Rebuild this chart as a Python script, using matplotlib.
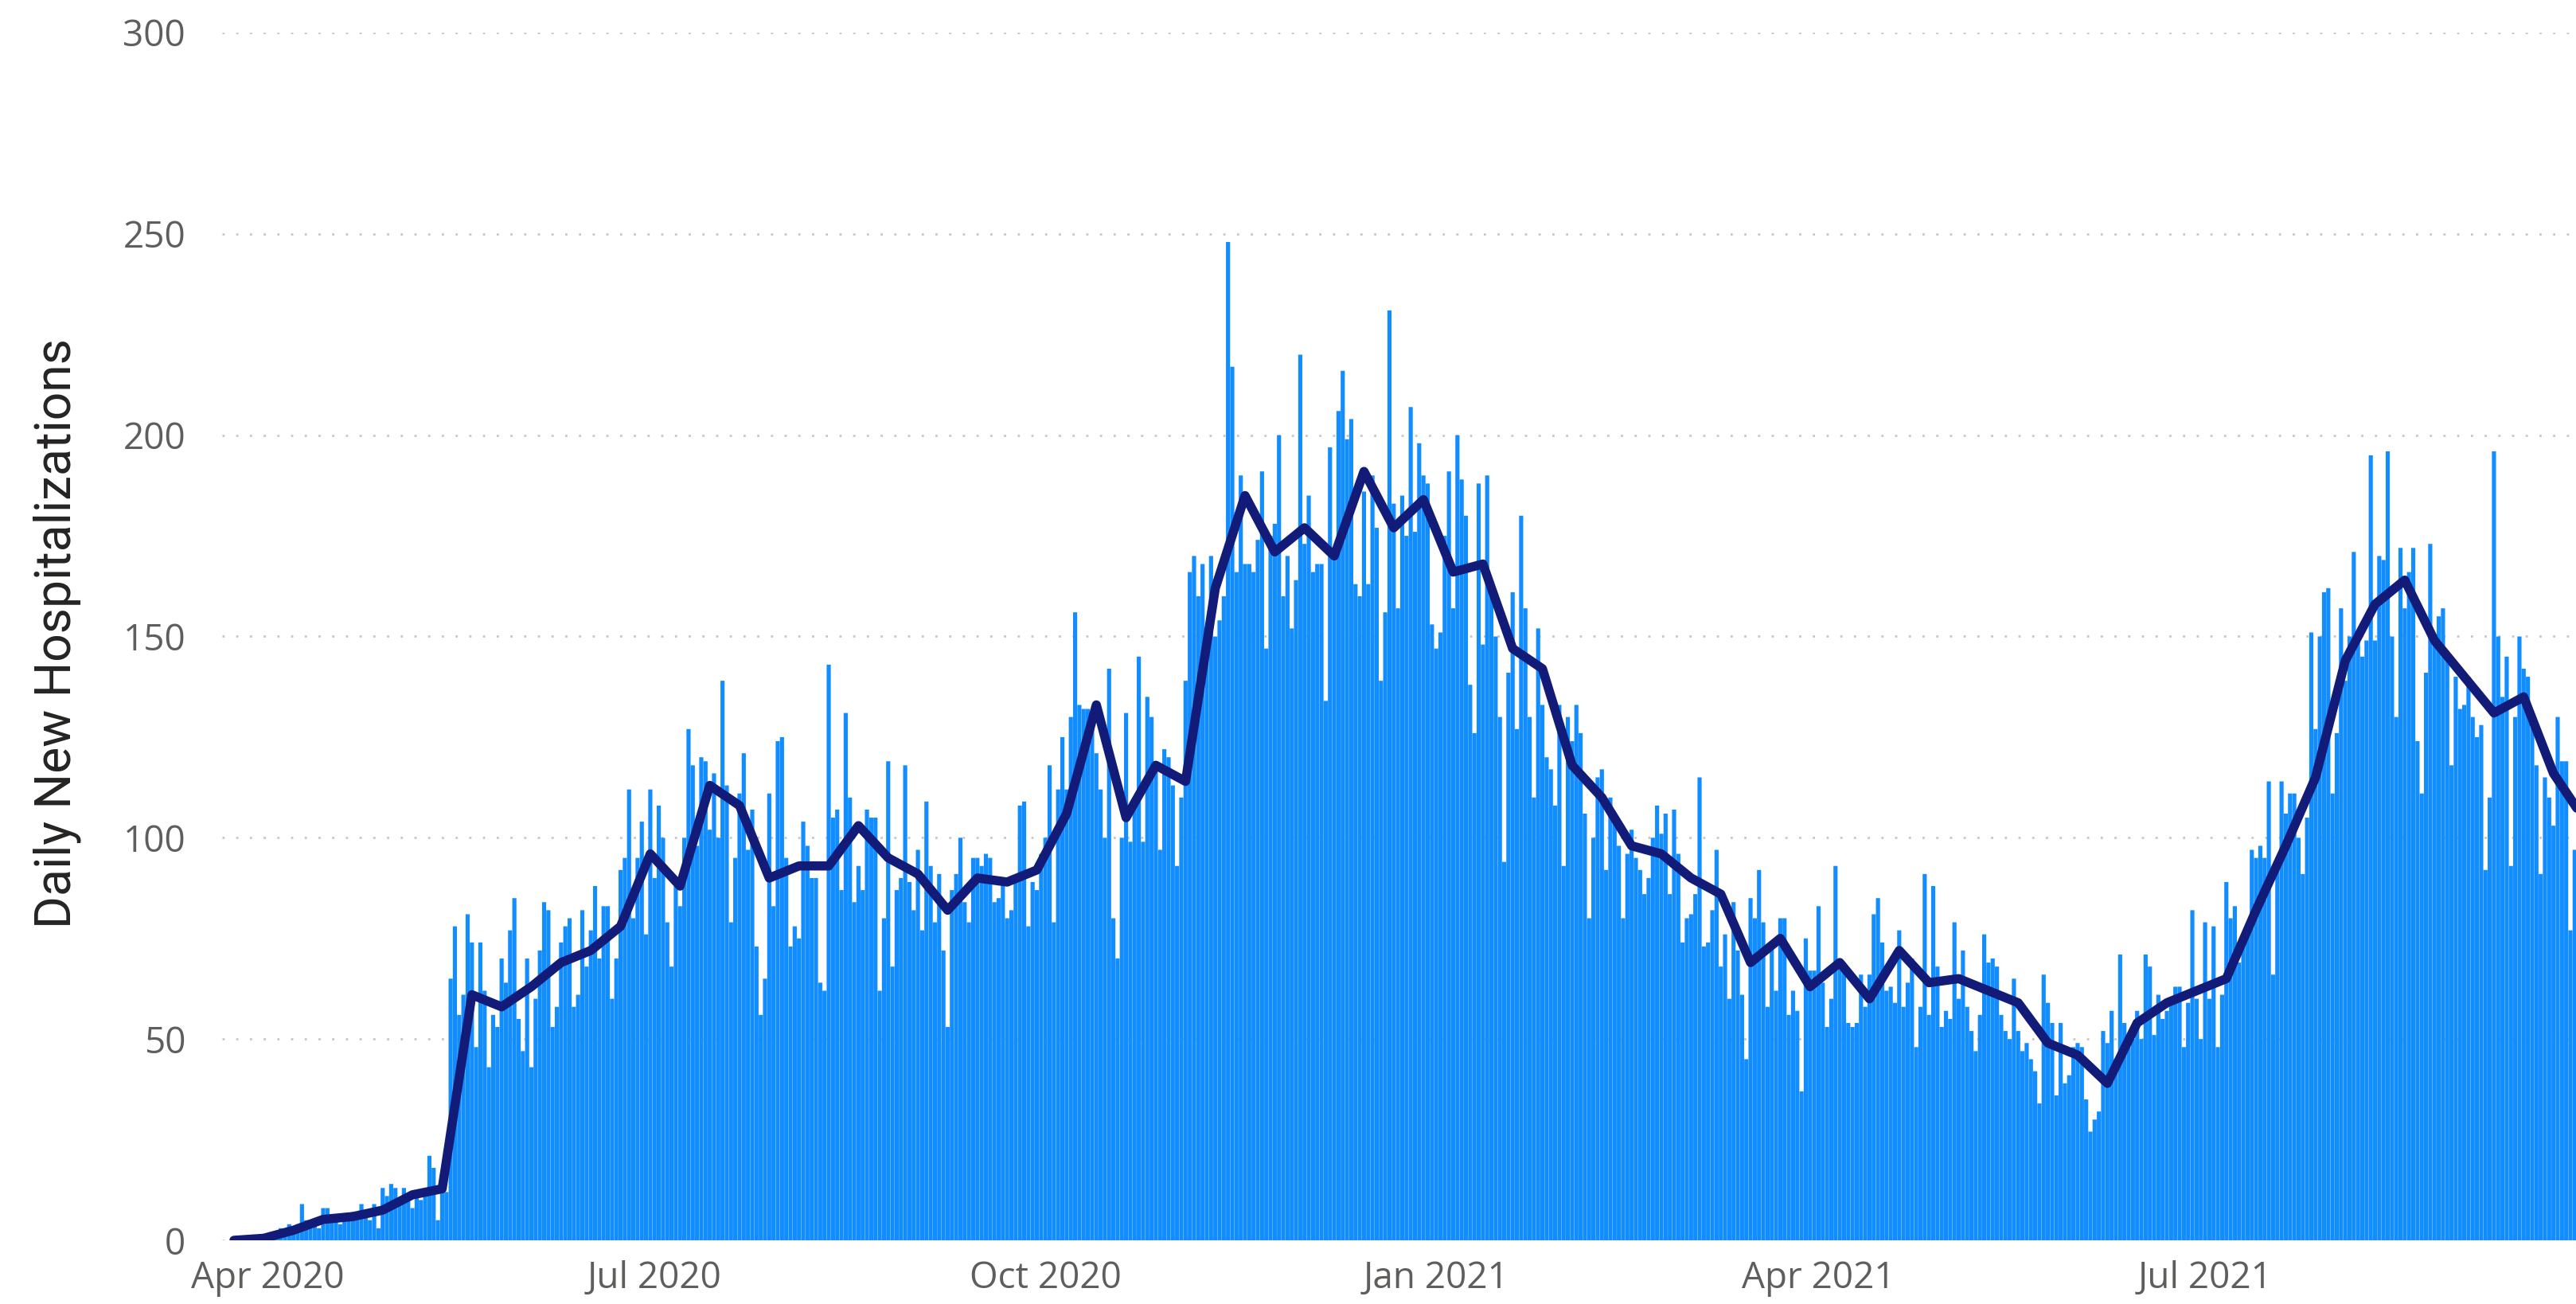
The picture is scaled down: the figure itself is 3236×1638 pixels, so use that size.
import matplotlib
matplotlib.use("Agg")
import matplotlib.pyplot as plt
import matplotlib.dates as mdates
import numpy as np
import pandas as pd

# ---------------- data: daily new hospitalizations (bars), by month ----------------
mar_2020 = [0, 0, 0, 1, 0, 1, 1]  # starts Mar 25, 2020
apr_2020 = [1, 2, 2, 3, 2, 4, 3, 4, 9, 5, 3, 4, 3, 8, 8, 5, 6, 4, 6, 5, 7,
            6, 9, 7, 5, 9, 3, 13, 11, 14]
may_2020 = [13, 9, 13, 11, 8, 12, 10, 12, 21, 18, 5, 12, 12, 65, 78, 56, 61, 81, 74,
            48, 74, 62, 43, 56, 53, 70, 64, 77, 85, 55, 47]
jun_2020 = [70, 43, 60, 72, 84, 82, 53, 58, 74, 78, 80, 58, 61, 82, 68, 77,
            88, 70, 83, 83, 60, 70, 92, 95, 112, 80, 95, 104, 76, 112]
jul_2020 = [90, 108, 100, 79, 68, 88, 83, 100, 127, 118, 98, 120, 119, 102,
            116, 100, 139, 113, 79, 95, 111, 121, 97, 107, 73, 56, 65, 111, 83, 124, 125]
aug_2020 = [95, 73, 78, 75, 104, 98, 90, 90, 64, 62, 143, 105, 107, 87, 131, 110, 84, 93,
            87, 107, 105, 105, 62, 80, 119, 68, 87, 90, 118, 89, 82]
sep_2020 = [97, 77, 109, 93, 79, 91, 72, 53, 87, 91, 100, 84, 79, 95, 95,
            93, 96, 95, 84, 85, 90, 80, 82, 90, 108, 109, 78, 89, 87, 96]
oct_2020 = [100, 118, 79, 112, 125, 112, 130, 156, 133, 132, 132, 127, 121,
            112, 100, 142, 80, 70, 100, 131, 99, 108, 145, 99, 135, 130, 117, 97, 122, 120, 113]
nov_2020 = [93, 110, 139, 166, 170, 160, 168, 145, 170, 150, 154, 160, 248, 217, 166, 190, 168,
            168, 166, 174, 191, 147, 175, 178, 200, 160, 170, 152, 164, 220]
dec_2020 = [173, 185, 166, 168, 168, 134, 197, 172, 206, 216, 199, 204, 163, 160, 186,
            163, 190, 177, 139, 156, 231, 183, 157, 185, 175, 207, 176, 198, 190, 188, 153]
jan_2021 = [147, 151, 175, 191, 157, 200, 189, 180, 138, 126, 188, 148, 190, 163, 150, 130, 94,
            141, 161, 127, 180, 157, 130, 110, 152, 133, 120, 117, 108, 133, 93]
feb_2021 = [130, 124, 133, 126, 106, 80, 100, 115, 117, 92, 110, 105, 98, 80, 96, 102,
            95, 92, 86, 90, 100, 108, 101, 106, 86, 107, 96, 74]
mar_2021 = [80, 81, 86, 115, 73, 74, 82, 97, 68, 76, 60, 84, 72, 61, 45, 85,
            80, 92, 79, 58, 74, 62, 80, 80, 56, 62, 57, 37, 75, 67, 67]
apr_2021 = [83, 64, 53, 60, 93, 69, 69, 54, 53, 54, 66, 58, 66, 81, 85, 74, 62, 63, 59, 77,
            58, 64, 70, 48, 58, 91, 56, 88, 68, 53]
may_2021 = [57, 55, 79, 60, 72, 58, 52, 47, 56, 76, 69, 70, 68, 56, 52, 50, 65, 52,
            47, 49, 45, 42, 34, 66, 59, 54, 36, 54, 39, 41, 48]
jun_2021 = [49, 48, 35, 27, 30, 32, 52, 49, 57, 45, 71, 54, 48, 50, 57,
            50, 71, 68, 51, 61, 55, 57, 60, 63, 63, 48, 59, 82, 60, 50]
jul_2021 = [79, 60, 78, 48, 61, 89, 80, 83, 69, 73, 78, 97, 95, 98, 95, 114, 66, 95, 114, 106,
            111, 111, 100, 91, 105, 151, 127, 150, 161, 162, 111]
aug_2021 = [126, 157, 139, 150, 171, 149, 145, 149, 195, 149, 170, 169, 196, 150, 130, 172, 157,
            166, 172, 124, 111, 141, 173, 149, 155, 157, 145, 118, 140, 132, 133]
sep_2021 = [140, 130, 125, 128, 92, 110, 196, 150, 135, 145, 93, 130, 150, 142,
            140, 128, 118, 91, 115, 110, 103, 130, 119, 119, 77, 97, 95, 100]

daily_months = [mar_2020, apr_2020, may_2020, jun_2020, jul_2020, aug_2020, sep_2020,
                oct_2020, nov_2020, dec_2020, jan_2021, feb_2021, mar_2021, apr_2021,
                may_2021, jun_2021, jul_2021, aug_2021, sep_2021]
daily_start = "2020-03-25"

# ---------------- weekly average (line), one point per week from Mar 24, 2020 ----------------
weekly_avg = [0, 0.5, 2.5, 5.2, 5.9, 7.5, 11.3, 12.8, 61, 58,
              63, 69, 72, 78, 96, 88, 113, 108, 90, 93,
              93, 103, 95, 91, 82, 90, 89, 92, 106, 133,
              105, 118, 114, 162, 185, 171, 177, 170, 191, 177,
              184, 166, 168, 147, 142, 118, 110, 98, 96, 90,
              86, 69, 75, 63, 69, 60, 72, 64, 65, 62,
              59, 49, 46, 39, 54, 59, 62, 65, 82, 98,
              115, 144, 158, 164, 149, 140, 131, 135, 116, 105]
weekly_start = "2020-03-24"

tick_dates = ["2020-04-01", "2020-07-01", "2020-10-01", "2021-01-01", "2021-04-01", "2021-07-01"]
tick_labels = ["Apr 2020", "Jul 2020", "Oct 2020", "Jan 2021", "Apr 2021", "Jul 2021"]
y_ticks = [0, 50, 100, 150, 200, 250, 300]
y_label = "Daily New Hospitalizations"

# ---------------- build ----------------
daily_values = np.concatenate([np.asarray(m, dtype=float) for m in daily_months])
daily_dates = pd.date_range(daily_start, periods=len(daily_values), freq="D")
weekly_dates = pd.date_range(weekly_start, periods=len(weekly_avg), freq="7D")

W, H = 3237, 1638
fig = plt.figure(figsize=(W / 100, H / 100), dpi=100)
fig.patch.set_facecolor("white")

ax_left, ax_bottom, ax_top = 279, 1558, 41
ax = fig.add_axes([ax_left / W, (H - ax_bottom) / H, (W - ax_left) / W, (ax_bottom - ax_top) / H])
ax.set_facecolor("white")

bars = ax.bar(mdates.date2num(daily_dates), daily_values, width=0.97, color="#118DFF",
              linewidth=0, zorder=2)
for b in bars:
    b.set_snap(False)
ax.plot(mdates.date2num(weekly_dates), weekly_avg, color="#121C78", lw=8.3,
        solid_joinstyle="round", solid_capstyle="round", zorder=3)

ref = pd.Timestamp("2020-04-01")
ax.set_xlim(mdates.date2num(ref - pd.Timedelta(days=10.8)),
            mdates.date2num(ref + pd.Timedelta(days=543.5)))
ax.set_ylim(0, 300)

ax.set_yticks(y_ticks)
ax.set_yticklabels([str(v) for v in y_ticks])
ax.set_xticks(mdates.date2num(pd.to_datetime(tick_dates)))
ax.set_xticklabels(tick_labels)

for s in ax.spines.values():
    s.set_visible(False)

ax.yaxis.grid(True, color="#C8C6C4", linewidth=2.0, linestyle=(0, (1, 5.2)), zorder=0)
ax.xaxis.grid(False)
ax.set_axisbelow(True)

tick_font = dict(family=["Open Sans", "DejaVu Sans"], size=33, color="#605E5C")
ax.tick_params(axis="y", length=0, pad=33)
ax.tick_params(axis="x", length=0, pad=18)
for lab in ax.get_yticklabels() + ax.get_xticklabels():
    lab.set_fontfamily(tick_font["family"])
    lab.set_fontsize(tick_font["size"])
    lab.set_color(tick_font["color"])

fig.text(72 / W, 1 - 795 / H, y_label, rotation=90, ha="center", va="center",
         fontsize=45, color="#252423", family=["Roboto", "DejaVu Sans"])

fig.savefig("out.png", dpi=100, facecolor="white")
